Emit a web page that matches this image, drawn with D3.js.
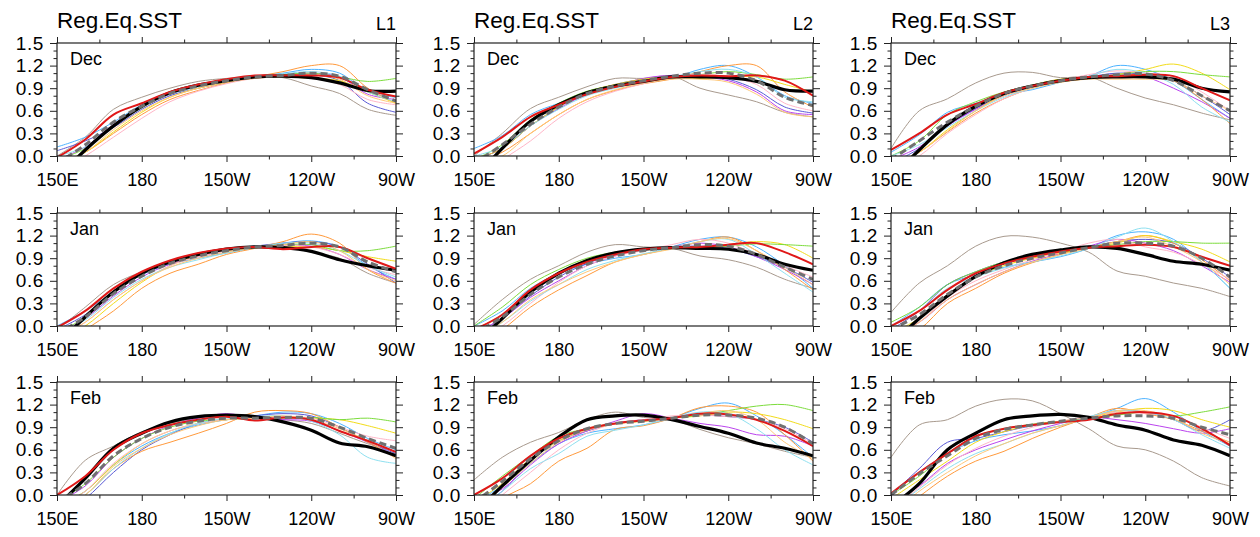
<!DOCTYPE html>
<html>
<head>
<meta charset="utf-8">
<script src="https://cdn.jsdelivr.net/npm/d3@7"></script>
<style>
body { margin: 0; background: #fff; }
svg text { font-family: "Liberation Sans", Arial, Helvetica, sans-serif; fill: #000; }
.tick line, .domain { stroke: #222; }
</style>
</head>
<body>
<div id="container"></div>
<script>
var lons = [150, 160, 170, 180, 190, 200, 210, 220, 230, 240, 250, 260, 270];
var xTicks = [150, 180, 210, 240, 270];
var xTickLabels = ["150E", "180", "150W", "120W", "90W"];
var xMinor = [165, 195, 225, 255];
var yTicks = [0, 0.3, 0.6, 0.9, 1.2, 1.5];
var yMinor = [0.1, 0.2, 0.4, 0.5, 0.7, 0.8, 1.0, 1.1, 1.3, 1.4];
var months = ["Dec", "Jan", "Feb"];
var levels = ["L1", "L2", "L3"];
var title = "Reg.Eq.SST";

// rows: obs (black), red run, ensemble mean (dashed), then 10 models
var modelColors = ["#a89a8e", "#4db3ff", "#5a5ad6", "#bb44ee", "#ff9a3c",
                   "#f2dc1a", "#7cdc3c", "#ffb6c8", "#8ee0f0", "#ffc878"];

var decL1 = [
  [-0.3, 0.08, 0.40, 0.66, 0.84, 0.94, 1.00, 1.05, 1.06, 1.04, 0.97, 0.87, 0.86],
  [-0.02, 0.22, 0.55, 0.70, 0.85, 0.95, 1.02, 1.07, 1.07, 1.07, 1.04, 0.88, 0.79],
  [-0.1, 0.15, 0.45, 0.66, 0.83, 0.93, 1.00, 1.05, 1.07, 1.10, 1.06, 0.88, 0.73],
  [0.0, 0.25, 0.62, 0.78, 0.90, 0.99, 1.03, 1.05, 1.04, 0.93, 0.83, 0.62, 0.54],
  [0.12, 0.25, 0.45, 0.68, 0.83, 0.92, 0.99, 1.05, 1.10, 1.15, 1.10, 0.85, 0.78],
  [0.07, 0.20, 0.38, 0.62, 0.80, 0.90, 0.98, 1.05, 1.08, 1.08, 1.00, 0.70, 0.58],
  [-0.05, 0.12, 0.42, 0.65, 0.82, 0.93, 1.00, 1.06, 1.08, 1.10, 1.05, 0.82, 0.75],
  [-0.1, 0.05, 0.30, 0.55, 0.75, 0.87, 0.97, 1.05, 1.12, 1.20, 1.20, 0.90, 0.70],
  [-0.1, 0.05, 0.32, 0.58, 0.78, 0.90, 0.98, 1.04, 1.05, 1.03, 1.00, 0.85, 0.70],
  [-0.05, 0.10, 0.40, 0.64, 0.83, 0.93, 1.00, 1.05, 1.08, 1.10, 1.05, 0.99, 1.03],
  [-0.2, 0.00, 0.25, 0.50, 0.72, 0.86, 0.96, 1.03, 1.05, 1.03, 0.95, 0.75, 0.68],
  [0.0, 0.12, 0.40, 0.65, 0.82, 0.92, 1.00, 1.06, 1.09, 1.12, 1.06, 0.85, 0.72],
  [-0.1, 0.05, 0.35, 0.60, 0.78, 0.90, 0.98, 1.03, 1.06, 1.08, 1.02, 0.80, 0.70]
];
var decL2 = [
  [-0.3, 0.10, 0.46, 0.68, 0.84, 0.93, 0.99, 1.05, 1.05, 1.04, 0.99, 0.88, 0.86],
  [0.03, 0.25, 0.52, 0.68, 0.82, 0.92, 0.99, 1.05, 1.07, 1.06, 1.07, 1.00, 0.80],
  [-0.1, 0.15, 0.42, 0.65, 0.83, 0.93, 1.00, 1.06, 1.10, 1.10, 1.00, 0.78, 0.67],
  [0.0, 0.30, 0.63, 0.78, 0.92, 1.03, 1.03, 1.06, 0.90, 0.81, 0.72, 0.58, 0.52],
  [0.10, 0.27, 0.55, 0.70, 0.83, 0.92, 0.97, 1.03, 1.15, 1.20, 1.05, 0.80, 0.70],
  [-0.05, 0.10, 0.40, 0.65, 0.83, 0.95, 1.02, 1.05, 1.08, 1.02, 0.88, 0.65, 0.57],
  [-0.05, 0.10, 0.40, 0.63, 0.82, 0.93, 1.03, 1.07, 1.05, 1.00, 0.85, 0.60, 0.55],
  [-0.1, 0.05, 0.30, 0.55, 0.75, 0.87, 0.96, 1.02, 1.12, 1.20, 1.20, 0.85, 0.65],
  [-0.05, 0.10, 0.40, 0.65, 0.85, 0.95, 1.02, 1.05, 1.03, 1.05, 1.05, 0.95, 0.85],
  [-0.05, 0.15, 0.48, 0.70, 0.86, 0.94, 1.00, 1.04, 1.08, 1.12, 1.08, 1.02, 1.05],
  [-0.3, -0.05, 0.20, 0.50, 0.72, 0.86, 0.96, 1.04, 1.08, 1.05, 0.95, 0.70, 0.60],
  [0.0, 0.12, 0.40, 0.62, 0.80, 0.90, 0.98, 1.05, 1.12, 1.15, 1.05, 0.78, 0.72],
  [-0.1, 0.00, 0.30, 0.55, 0.75, 0.88, 0.97, 1.02, 1.02, 0.98, 0.82, 0.58, 0.52]
];
var decL3 = [
  [-0.3, 0.08, 0.42, 0.66, 0.83, 0.93, 1.00, 1.04, 1.05, 1.05, 1.02, 0.90, 0.85],
  [0.08, 0.30, 0.55, 0.69, 0.84, 0.93, 1.00, 1.05, 1.06, 1.08, 1.06, 0.90, 0.74],
  [-0.05, 0.20, 0.45, 0.66, 0.83, 0.93, 1.00, 1.05, 1.08, 1.09, 1.00, 0.80, 0.60],
  [0.10, 0.60, 0.76, 0.97, 1.10, 1.11, 1.04, 1.05, 0.90, 0.77, 0.68, 0.57, 0.48],
  [0.05, 0.28, 0.58, 0.70, 0.82, 0.88, 0.98, 1.06, 1.20, 1.15, 1.00, 0.75, 0.50],
  [-0.1, 0.10, 0.40, 0.63, 0.82, 0.93, 1.00, 1.05, 1.10, 1.08, 1.00, 0.80, 0.55],
  [-0.05, 0.12, 0.40, 0.62, 0.80, 0.92, 1.00, 1.05, 1.08, 1.05, 0.90, 0.72, 0.50],
  [-0.15, 0.05, 0.32, 0.57, 0.76, 0.90, 0.98, 1.03, 1.06, 1.08, 1.00, 0.75, 0.43],
  [-0.1, 0.05, 0.35, 0.60, 0.82, 0.94, 1.02, 1.04, 1.08, 1.15, 1.22, 1.10, 0.88],
  [0.0, 0.20, 0.55, 0.72, 0.85, 0.94, 1.00, 1.04, 1.08, 1.12, 1.12, 1.08, 1.05],
  [-0.2, 0.00, 0.30, 0.55, 0.76, 0.90, 1.00, 1.08, 1.13, 1.10, 1.05, 0.85, 0.60],
  [0.0, 0.15, 0.38, 0.60, 0.78, 0.90, 0.98, 1.06, 1.15, 1.10, 0.95, 0.65, 0.45],
  [-0.1, 0.05, 0.33, 0.60, 0.80, 0.90, 0.98, 1.02, 1.02, 1.02, 1.00, 0.80, 0.60]
];
var janL1 = [
  [-0.25, 0.12, 0.45, 0.70, 0.85, 0.95, 1.02, 1.05, 1.04, 0.99, 0.88, 0.80, 0.74],
  [-0.02, 0.20, 0.50, 0.72, 0.87, 0.97, 1.03, 1.05, 1.02, 1.05, 1.05, 0.90, 0.76],
  [-0.1, 0.12, 0.43, 0.66, 0.83, 0.93, 1.00, 1.05, 1.07, 1.10, 1.05, 0.85, 0.72],
  [-0.05, 0.25, 0.55, 0.72, 0.86, 0.95, 1.02, 1.05, 1.05, 0.98, 0.90, 0.70, 0.57],
  [0.0, 0.20, 0.45, 0.68, 0.82, 0.90, 0.97, 1.04, 1.10, 1.13, 1.05, 0.80, 0.62],
  [-0.05, 0.15, 0.45, 0.70, 0.86, 0.95, 1.02, 1.06, 1.10, 1.12, 1.05, 0.82, 0.57],
  [-0.1, 0.10, 0.40, 0.65, 0.82, 0.92, 1.00, 1.05, 1.07, 1.06, 0.95, 0.75, 0.62],
  [-0.3, -0.05, 0.20, 0.50, 0.70, 0.82, 0.95, 1.03, 1.12, 1.22, 1.10, 0.75, 0.57],
  [-0.2, 0.00, 0.30, 0.58, 0.80, 0.93, 1.00, 1.04, 1.05, 1.05, 1.00, 0.92, 0.86],
  [-0.1, 0.12, 0.45, 0.70, 0.86, 0.96, 1.02, 1.05, 1.08, 1.08, 1.00, 1.00, 1.06],
  [-0.15, 0.05, 0.35, 0.60, 0.80, 0.92, 1.00, 1.05, 1.07, 1.05, 0.95, 0.78, 0.68],
  [-0.1, 0.08, 0.38, 0.62, 0.78, 0.88, 0.97, 1.04, 1.10, 1.10, 1.00, 0.80, 0.65],
  [-0.15, 0.05, 0.35, 0.60, 0.78, 0.90, 0.98, 1.04, 1.08, 1.12, 1.00, 0.75, 0.60]
];
var janL2 = [
  [-0.25, 0.10, 0.45, 0.70, 0.87, 0.97, 1.02, 1.04, 1.03, 1.02, 0.95, 0.82, 0.74],
  [-0.05, 0.15, 0.48, 0.70, 0.85, 0.95, 1.02, 1.04, 1.05, 1.08, 1.10, 0.98, 0.82],
  [-0.1, 0.12, 0.42, 0.65, 0.82, 0.93, 1.00, 1.04, 1.08, 1.06, 0.95, 0.78, 0.62],
  [0.02, 0.35, 0.62, 0.80, 0.98, 1.08, 1.05, 1.03, 0.93, 0.88, 0.78, 0.62, 0.50],
  [0.0, 0.20, 0.50, 0.70, 0.82, 0.90, 0.95, 1.05, 1.15, 1.18, 1.05, 0.80, 0.50],
  [-0.1, 0.10, 0.40, 0.65, 0.83, 0.95, 1.02, 1.05, 1.06, 1.03, 0.92, 0.78, 0.58],
  [-0.1, 0.10, 0.38, 0.60, 0.80, 0.93, 1.02, 1.05, 1.10, 1.05, 0.92, 0.75, 0.55],
  [-0.3, -0.05, 0.25, 0.48, 0.67, 0.85, 0.95, 1.03, 1.12, 1.18, 1.00, 0.75, 0.48],
  [-0.05, 0.15, 0.45, 0.70, 0.88, 0.97, 1.02, 1.04, 1.05, 1.08, 1.12, 1.08, 0.90],
  [0.0, 0.25, 0.55, 0.75, 0.90, 0.98, 1.02, 1.03, 1.04, 1.06, 1.09, 1.08, 1.06],
  [-0.2, 0.00, 0.30, 0.58, 0.80, 0.93, 1.00, 1.08, 1.15, 1.10, 0.95, 0.80, 0.65],
  [-0.15, 0.05, 0.33, 0.55, 0.75, 0.87, 0.96, 1.03, 1.12, 1.15, 0.95, 0.70, 0.45],
  [-0.15, 0.05, 0.35, 0.55, 0.72, 0.85, 0.95, 1.02, 1.12, 1.16, 1.00, 0.78, 0.55]
];
var janL3 = [
  [-0.25, 0.10, 0.40, 0.66, 0.84, 0.95, 1.01, 1.05, 1.03, 0.95, 0.86, 0.82, 0.74],
  [0.0, 0.20, 0.48, 0.70, 0.83, 0.92, 0.99, 1.04, 1.06, 1.08, 1.05, 0.92, 0.80],
  [-0.05, 0.15, 0.42, 0.65, 0.80, 0.90, 0.97, 1.04, 1.10, 1.10, 1.06, 0.90, 0.65],
  [0.18, 0.57, 0.80, 1.06, 1.19, 1.18, 1.10, 0.98, 0.73, 0.66, 0.57, 0.50, 0.39],
  [0.0, 0.25, 0.55, 0.68, 0.78, 0.85, 0.92, 1.03, 1.20, 1.25, 1.15, 0.85, 0.50],
  [-0.05, 0.20, 0.55, 0.72, 0.85, 0.93, 1.00, 1.05, 1.12, 1.15, 1.10, 0.90, 0.65],
  [-0.1, 0.05, 0.35, 0.55, 0.72, 0.86, 0.96, 1.06, 1.15, 1.10, 1.00, 0.80, 0.58],
  [-0.25, -0.05, 0.30, 0.50, 0.70, 0.84, 0.95, 1.05, 1.12, 1.20, 1.10, 0.88, 0.60],
  [-0.1, 0.10, 0.40, 0.65, 0.80, 0.90, 0.97, 1.04, 1.10, 1.20, 1.12, 1.02, 0.85],
  [0.05, 0.25, 0.55, 0.72, 0.85, 0.93, 0.98, 1.04, 1.08, 1.12, 1.12, 1.10, 1.10],
  [-0.2, 0.05, 0.38, 0.60, 0.75, 0.88, 0.98, 1.10, 1.15, 1.05, 0.98, 0.82, 0.62],
  [0.0, 0.20, 0.50, 0.65, 0.77, 0.85, 0.93, 1.03, 1.18, 1.30, 1.12, 0.85, 0.50],
  [-0.15, 0.05, 0.35, 0.55, 0.72, 0.85, 0.95, 1.03, 1.12, 1.18, 1.05, 0.85, 0.55]
];
var febL1 = [
  [-0.15, 0.22, 0.62, 0.82, 0.97, 1.04, 1.06, 1.04, 0.97, 0.86, 0.69, 0.64, 0.52],
  [0.0, 0.25, 0.60, 0.82, 0.93, 1.00, 1.04, 0.99, 1.03, 1.00, 0.85, 0.72, 0.57],
  [-0.1, 0.15, 0.52, 0.75, 0.90, 0.98, 1.02, 1.02, 1.03, 1.02, 0.90, 0.75, 0.62],
  [0.0, 0.46, 0.65, 0.84, 0.95, 1.02, 1.05, 1.04, 1.00, 0.95, 0.82, 0.68, 0.58],
  [-0.15, 0.05, 0.40, 0.65, 0.82, 0.93, 1.00, 1.05, 1.10, 1.08, 0.95, 0.75, 0.60],
  [-0.3, -0.05, 0.30, 0.60, 0.80, 0.95, 1.00, 1.05, 1.08, 1.05, 0.90, 0.70, 0.55],
  [-0.1, 0.12, 0.50, 0.75, 0.92, 1.02, 1.08, 1.02, 1.00, 0.98, 0.85, 0.70, 0.52],
  [-0.2, 0.00, 0.35, 0.58, 0.70, 0.82, 0.95, 1.10, 1.12, 1.08, 0.90, 0.70, 0.50],
  [-0.15, 0.05, 0.40, 0.68, 0.85, 0.95, 1.00, 1.02, 1.03, 1.02, 1.00, 0.92, 0.82],
  [-0.1, 0.15, 0.50, 0.75, 0.90, 0.98, 1.00, 1.02, 1.02, 1.03, 1.00, 1.02, 0.97],
  [-0.2, 0.05, 0.42, 0.68, 0.85, 0.95, 1.00, 1.02, 1.03, 1.02, 0.90, 0.78, 0.72],
  [-0.2, 0.00, 0.35, 0.62, 0.82, 0.95, 1.02, 1.04, 1.05, 0.98, 0.80, 0.50, 0.42],
  [-0.2, 0.00, 0.38, 0.62, 0.80, 0.92, 1.00, 1.02, 1.05, 1.00, 0.88, 0.72, 0.48]
];
var febL2 = [
  [-0.25, 0.12, 0.46, 0.77, 1.00, 1.05, 1.06, 1.00, 0.91, 0.82, 0.69, 0.62, 0.52],
  [0.0, 0.22, 0.52, 0.75, 0.88, 0.95, 0.99, 1.02, 1.08, 1.07, 1.00, 0.85, 0.65],
  [-0.1, 0.18, 0.48, 0.72, 0.88, 0.95, 0.98, 1.02, 1.06, 1.06, 1.02, 0.90, 0.68],
  [0.20, 0.50, 0.70, 0.83, 1.00, 1.10, 1.03, 1.00, 0.87, 0.76, 0.68, 0.58, 0.50],
  [-0.1, 0.12, 0.42, 0.68, 0.82, 0.88, 0.93, 1.02, 1.15, 1.22, 1.05, 0.80, 0.50],
  [-0.2, 0.05, 0.45, 0.72, 0.85, 0.95, 1.00, 1.02, 1.06, 1.04, 1.00, 0.90, 0.70],
  [-0.1, 0.08, 0.40, 0.68, 0.85, 0.98, 1.08, 1.02, 0.95, 0.90, 0.80, 0.78, 0.65],
  [-0.4, -0.05, 0.15, 0.45, 0.62, 0.87, 0.92, 1.02, 1.16, 1.18, 1.10, 0.80, 0.45],
  [-0.1, 0.15, 0.48, 0.72, 0.88, 0.95, 0.98, 1.02, 1.05, 1.10, 1.08, 1.00, 0.88],
  [-0.05, 0.25, 0.52, 0.78, 0.88, 0.95, 0.98, 1.02, 1.06, 1.12, 1.18, 1.20, 1.12],
  [-0.3, 0.00, 0.30, 0.60, 0.82, 0.95, 1.00, 1.05, 1.06, 1.04, 1.00, 0.88, 0.68],
  [-0.2, 0.05, 0.35, 0.55, 0.78, 0.86, 0.93, 1.02, 1.10, 1.08, 0.88, 0.60, 0.40],
  [-0.2, 0.10, 0.42, 0.70, 0.86, 0.94, 0.98, 1.02, 1.08, 1.12, 1.00, 0.70, 0.48]
];
var febL3 = [
  [-0.15, 0.15, 0.60, 0.82, 1.00, 1.05, 1.07, 1.03, 0.93, 0.86, 0.73, 0.66, 0.52],
  [0.02, 0.30, 0.55, 0.78, 0.88, 0.93, 0.97, 1.00, 1.08, 1.10, 1.05, 0.88, 0.66],
  [0.0, 0.28, 0.52, 0.75, 0.87, 0.93, 0.98, 1.02, 1.05, 1.05, 1.02, 0.90, 0.80],
  [0.50, 0.93, 1.00, 1.18, 1.27, 1.25, 1.08, 0.88, 0.65, 0.60, 0.45, 0.23, 0.12],
  [0.0, 0.30, 0.55, 0.72, 0.80, 0.85, 0.92, 1.02, 1.15, 1.28, 1.10, 0.85, 0.65],
  [0.0, 0.35, 0.70, 0.75, 0.84, 0.92, 0.97, 1.02, 1.12, 1.10, 1.00, 0.85, 1.00],
  [-0.1, 0.12, 0.42, 0.60, 0.73, 0.85, 0.95, 1.03, 1.00, 0.95, 0.88, 0.82, 0.88],
  [-0.3, -0.02, 0.25, 0.45, 0.58, 0.75, 0.90, 1.03, 1.15, 1.08, 1.00, 0.85, 0.70],
  [-0.05, 0.20, 0.45, 0.70, 0.84, 0.93, 0.98, 1.03, 1.10, 1.15, 1.12, 1.00, 0.90],
  [0.0, 0.25, 0.55, 0.78, 0.88, 0.94, 0.98, 1.02, 1.06, 1.10, 1.05, 1.10, 1.17],
  [-0.2, 0.10, 0.40, 0.62, 0.78, 0.90, 0.98, 1.04, 1.10, 1.08, 1.05, 0.90, 0.75],
  [-0.2, 0.08, 0.35, 0.55, 0.68, 0.82, 0.92, 1.04, 1.12, 1.10, 1.00, 0.80, 0.62],
  [-0.25, 0.05, 0.30, 0.52, 0.68, 0.82, 0.92, 1.02, 1.12, 1.12, 1.02, 0.82, 0.68]
];

var panels = [[decL1, decL2, decL3], [janL1, janL2, janL3], [febL1, febL2, febL3]];

var width = 1260, height = 537;
var pw = 339, ph = 113;
var colLeft = [57, 474, 891];
var rowTop = [43, 213, 382];

var svg = d3.select("#container")
	.append("svg")
	.attr("width", width)
	.attr("height", height);

var x = d3.scaleLinear().domain([150, 270]).range([0, pw]);
var y = d3.scaleLinear().domain([0, 1.5]).range([ph, 0]);

var line = d3.line()
	.x(function(d, i) { return x(lons[i]); })
	.y(function(d) { return y(d); })
	.curve(d3.curveCatmullRom);

function tidy(g) {
	g.select(".domain").remove();
	g.selectAll(".tick line").attr("stroke", "#222").attr("stroke-width", 1);
}

panels.forEach(function(row, r) {
	row.forEach(function(data, c) {
		var g = svg.append("g")
			.attr("transform", "translate(" + colLeft[c] + "," + rowTop[r] + ")");
		var clipId = "clip" + r + c;
		g.append("clipPath").attr("id", clipId)
			.append("rect").attr("width", pw).attr("height", ph);

		var lines = g.append("g").attr("clip-path", "url(#" + clipId + ")");

		// thin model lines
		lines.selectAll("path.model")
			.data(data.slice(3))
			.enter()
			.append("path")
			.attr("class", "model")
			.attr("d", line)
			.attr("fill", "none")
			.attr("stroke", function(d, i) { return modelColors[i]; })
			.attr("stroke-width", 1);

		lines.append("path")
			.attr("d", line(data[0]))
			.attr("fill", "none")
			.attr("stroke", "#000")
			.attr("stroke-width", 3.2);

		lines.append("path")
			.attr("d", line(data[1]))
			.attr("fill", "none")
			.attr("stroke", "#e01818")
			.attr("stroke-width", 2);

		lines.append("path")
			.attr("d", line(data[2]))
			.attr("fill", "none")
			.attr("stroke", "#707070")
			.attr("stroke-width", 3)
			.attr("stroke-dasharray", "7,4");

		// frame
		g.append("rect")
			.attr("width", pw).attr("height", ph)
			.attr("fill", "none")
			.attr("stroke", "#222")
			.attr("stroke-width", 1.2);

		// axes - major ticks
		g.append("g")
			.call(d3.axisLeft(y).tickValues(yTicks).tickFormat(d3.format(".1f"))
				.tickSize(7).tickPadding(6))
			.call(tidy)
			.selectAll("text")
			.attr("font-size", 19)
			.attr("letter-spacing", 0.6)
			.attr("font-family", "Liberation Sans, Arial, sans-serif");

		g.append("g")
			.attr("transform", "translate(" + pw + ",0)")
			.call(d3.axisRight(y).tickValues(yTicks).tickFormat("").tickSize(7))
			.call(tidy);

		g.append("g")
			.call(d3.axisTop(x).tickValues(xTicks).tickFormat("").tickSize(6))
			.call(tidy);

		g.append("g")
			.attr("transform", "translate(0," + ph + ")")
			.call(d3.axisBottom(x).tickValues(xTicks)
				.tickFormat(function(d, i) { return xTickLabels[i]; })
				.tickSize(6).tickPadding(11))
			.call(tidy)
			.selectAll("text")
			.attr("font-size", 18)
			.attr("font-family", "Liberation Sans, Arial, sans-serif");

		// minor ticks
		g.append("g").call(d3.axisLeft(y).tickValues(yMinor).tickFormat("").tickSize(3.5)).call(tidy);
		g.append("g").attr("transform", "translate(" + pw + ",0)")
			.call(d3.axisRight(y).tickValues(yMinor).tickFormat("").tickSize(3.5)).call(tidy);
		g.append("g").call(d3.axisTop(x).tickValues(xMinor).tickFormat("").tickSize(3.5)).call(tidy);
		g.append("g").attr("transform", "translate(0," + ph + ")")
			.call(d3.axisBottom(x).tickValues(xMinor).tickFormat("").tickSize(3.5)).call(tidy);

		// month label
		g.append("text")
			.attr("x", 13)
			.attr("y", 22)
			.attr("font-size", 18)
			.text(months[r]);

		if (r === 0) {
			g.append("text")
				.attr("x", 0)
				.attr("y", -15)
				.attr("font-size", 22.5)
				.text(title);
			g.append("text")
				.attr("x", pw)
				.attr("y", -13)
				.attr("text-anchor", "end")
				.attr("font-size", 18)
				.text(levels[c]);
		}
	});
});
</script>
</body>
</html>
